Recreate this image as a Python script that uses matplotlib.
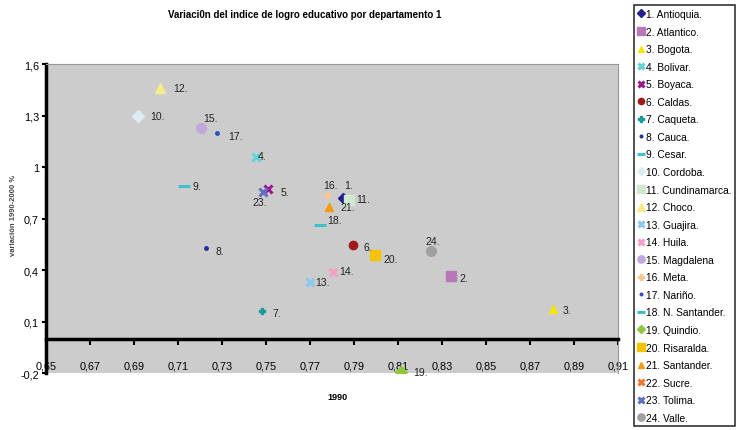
import numpy as np
import matplotlib.pyplot as plt

plt.rcParams['font.family'] = ['Liberation Sans Narrow', 'Liberation Sans', 'DejaVu Sans']

names = ["1. Antioquia.", "2. Atlantico.", "3. Bogota.", "4. Bolivar.", "5. Boyaca.",
         "6. Caldas.", "7. Caqueta.", "8. Cauca.", "9. Cesar.", "10. Cordoba.",
         "11. Cundinamarca.", "12. Choco.", "13. Guajira.", "14. Huila.", "15. Magdalena",
         "16. Meta.", "17. Nariño.", "18. N. Santander.", "19. Quindio.", "20. Risaralda.",
         "21. Santander.", "22. Sucre.", "23. Tolima.", "24. Valle."]
labels = ["1.", "2.", "3.", "4.", "5.", "6.", "7.", "8.", "9.", "10.", "11.", "12.",
          "13.", "14.", "15.", "16.", "17.", "18.", "19.", "20.", "21.", "22.", "23.", "24."]
x1990 = [0.785, 0.834, 0.8805, 0.7455, 0.751, 0.7895, 0.748, 0.7227, 0.7127, 0.692,
         0.7877, 0.7018, 0.770, 0.7805, 0.7205, 0.7777, 0.7277, 0.7745, 0.8114, 0.7995,
         0.7786, np.nan, 0.7486, 0.825]
variacion = [0.822, 0.366, 0.173, 1.056, 0.875, 0.547, 0.16, 0.53, 0.892, 1.30,
             0.81, 1.46, 0.33, 0.39, 1.23, 0.84, 1.196, 0.66, -0.195, 0.49,
             0.77, np.nan, 0.857, 0.51]

colors = ['#1f1f8f', '#b877b8', '#f5e600', '#5fd3d8', '#9b1a8f', '#a01c1c', '#1a9a9a',
          '#2a2a9a', '#40c0d0', '#dcecf4', '#cfe8cf', '#f5ec8a', '#8ec8ef', '#f2a0c8',
          '#c0a8dc', '#f8c890', '#3050c0', '#40c0c8', '#8fc83a', '#f5c400', '#f59a10',
          '#f07830', '#6070c0', '#a0a0a0']
markers = ['D', 's', '^', 'x', 'x', 'o', 'P', '.', '_', 'D', 's', '^',
           'x', 'x', 'o', 'P', '.', '_', 'D', 's', '^', 'x', 'x', 'o']
msizes = [5, 7, 6, 6, 6, 6, 5, 5, 8, 6, 7, 7, 6, 6, 7, 5, 5, 8, 6, 7, 6, 6, 6, 7]

# label offsets in pixels (right, up)
label_dx = [1, 9, 10, 2, 12, 11, 11, 10, 9, 12, 7, 13, 5, 6, 2, -4, 11, 7, 12, 9, 12, 8, -10, -6]
label_dy = [13, -2, -1, 1, -3, -2, -2, -3, 0, 0, 1, 0, 0, 1, 10, 10, -3, 5, 0, -4, 0, 0, -10, 10]

fig = plt.figure(figsize=(7.49, 4.31), dpi=100)
ax = fig.add_axes([0.0614, 0.132, 0.7636, 0.717])
ax.set_facecolor('#cccccc')
ax.spines['bottom'].set_position(('data', 0))

for i in range(len(names)):
    ax.plot(x1990[i], variacion[i], linestyle='none', marker=markers[i], color=colors[i],
            markersize=msizes[i], markeredgewidth=2.2 if markers[i] in ('x', '_') else 1,
            label=names[i])
    if not np.isnan(x1990[i]):
        ax.annotate(labels[i], (x1990[i], variacion[i]), xytext=(label_dx[i], label_dy[i]),
                    textcoords='offset pixels', ha='left', va='center', fontsize=7.5,
                    color='#222222')

ax.set_xlim(0.65, 0.91)
ax.set_ylim(-0.2, 1.6)
xt = np.arange(0.65, 0.9101, 0.02)
ax.set_xticks(xt)
ax.set_xticklabels([f"{v:.2f}".replace('.', ',') for v in xt])
yt = np.arange(-0.2, 1.601, 0.3)
ax.set_yticks(yt)
ax.set_yticklabels([f"{v:g}".replace('.', ',') for v in np.round(yt, 1)])

ax.spines['bottom'].set_linewidth(2.5)
ax.spines['left'].set_linewidth(2.5)
ax.spines['top'].set_color('#999999')
ax.spines['right'].set_color('#999999')
ax.tick_params(axis='x', direction='out', length=4, width=1.5, pad=12, labelsize=7.8)
ax.tick_params(axis='y', direction='out', length=3, width=1.5, pad=2, labelsize=7.8)

fig.text(0.407, 0.965, "Variaci0n del indice de logro educativo por departamento 1",
         ha='center', va='center', fontsize=7, fontweight='bold')
fig.text(0.45, 0.078, "1990", ha='center', va='center', fontsize=6.5, fontweight='bold')
fig.text(0.018, 0.50, "variación 1990-2000 %", rotation=90, ha='center', va='center',
         fontsize=5.5, fontweight='bold', color='#444444')

leg = fig.legend(loc='upper left', bbox_to_anchor=(0.840, 0.997), fontsize=7.4,
                 frameon=True, fancybox=False, edgecolor='black', handlelength=0.6,
                 handletextpad=0.2, labelspacing=0.735, borderpad=0.35, markerscale=0.75)
leg.get_frame().set_linewidth(1.2)

fig.savefig('out.png', dpi=100)
